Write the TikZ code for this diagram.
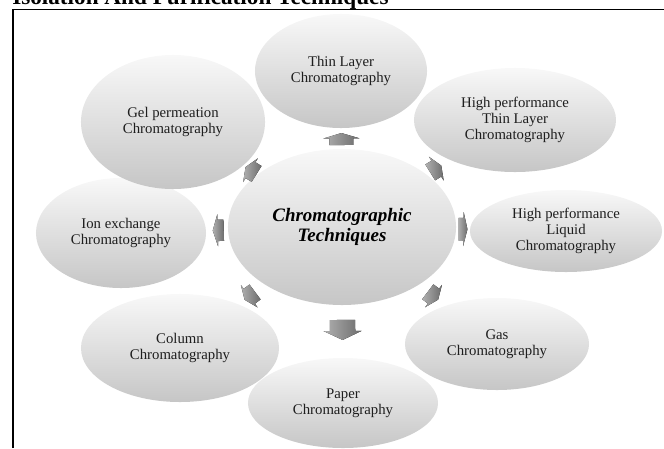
\documentclass[tikz,border=0pt]{standalone}
\usepackage{fontspec}
\setmainfont{Liberation Serif}
\usepackage{xcolor}
\usetikzlibrary{shapes.geometric}
\definecolor{bubbletop}{HTML}{F8F8F8}
\definecolor{bubblebot}{HTML}{C6C6C6}
\definecolor{arrtail}{HTML}{B0B0B0}
\definecolor{arrhead}{HTML}{6C6C6C}
\definecolor{txtdark}{HTML}{1E1E1E}
\tikzset{
  bubble/.style={ellipse, inner sep=0pt, top color=bubbletop, bottom color=bubblebot,
    align=center, text=txtdark, font=\fontsize{10.5}{11.6}\selectfont},
  hub/.style={bubble, text=black, font=\fontsize{13.5}{13.8}\selectfont\bfseries\itshape},
  figtitle/.style={anchor=base west, inner sep=0pt, font=\fontsize{16.5}{18}\selectfont\bfseries},
  frame/.style={line width=1.4pt, draw=black},
  pics/radarr/.style 2 args={code={
    \fill[left color=arrtail, right color=arrhead]
      ({-#1/2},{-#2/3}) -- ({#1*0.05},{-#2/3}) -- ({#1*0.05},{-#2/2}) -- ({#1/2},0)
      -- ({#1*0.05},{#2/2}) -- ({#1*0.05},{#2/3}) -- ({-#1/2},{#2/3}) -- cycle;
  }},
  spoke/.style={sloped, allow upside down},
}
\begin{document}
\begin{tikzpicture}[x=0.025cm, y=-0.025cm]
\useasboundingbox (0,0) rectangle (664,448);

%% =====================================================================
%% Page frame and (cut off) heading
%% =====================================================================
\node[figtitle] (title) at (12,4.5) {Isolation And Purification Techniques};
\draw[frame] (13,448) -- (13,9.5) -- (664,9.5);

%% =====================================================================
%% Hub and the eight techniques
%% =====================================================================
\node[hub, minimum width=5.7cm, minimum height=3.9cm] (c_hub) at (342,227) {Chromatographic\\Techniques};

\node[bubble, minimum width=4.3cm, minimum height=2.85cm] (c_tlc) at (341,71) {Thin Layer\\Chromatography};
\node[bubble, minimum width=5.05cm, minimum height=2.6cm] (c_hptlc) at (515,120) {High performance\\Thin Layer\\Chromatography};
\node[bubble, minimum width=4.8cm, minimum height=2.05cm] (c_hplc) at (566,231) {High performance\\Liquid\\Chromatography};
\node[bubble, minimum width=4.6cm, minimum height=2.3cm] (c_gas) at (497,344) {Gas\\Chromatography};
\node[bubble, minimum width=4.75cm, minimum height=2.25cm] (c_paper) at (343,403) {Paper\\Chromatography};
\node[bubble, minimum width=4.95cm, minimum height=2.7cm] (c_col) at (180,348) {Column\\Chromatography};
\node[bubble, minimum width=4.25cm, minimum height=2.75cm] (c_ion) at (121,233) {Ion exchange\\Chromatography};
\node[bubble, minimum width=4.6cm, minimum height=3.35cm] (c_gel) at (173,122) {Gel permeation\\Chromatography};

%% =====================================================================
%% Block arrows from hub outwards
%% =====================================================================
\path (c_hub.center) -- (c_tlc.center) pic[spoke, pos=0.564] {radarr={12}{36}};
\path (c_hub.center) -- (c_hptlc.center) pic[spoke, pos=0.542] {radarr={13}{28}};
\path (c_hub.center) -- (c_hplc.center) pic[spoke, pos=0.54] {radarr={9}{34}};
\path (c_hub.center) -- (c_gas.center) pic[spoke, pos=0.587] {radarr={13}{28}};
\path (c_hub.center) -- (c_paper.center) pic[spoke, pos=0.585] {radarr={20}{38}};
\path (c_hub.center) -- (c_col.center) pic[spoke, pos=0.569] {radarr={13}{28}};
\path (c_hub.center) -- (c_ion.center) pic[spoke, pos=0.56] {radarr={11}{32}};
\path (c_hub.center) -- (c_gel.center) pic[spoke, pos=0.538] {radarr={13}{28}};

\end{tikzpicture}
\end{document}
